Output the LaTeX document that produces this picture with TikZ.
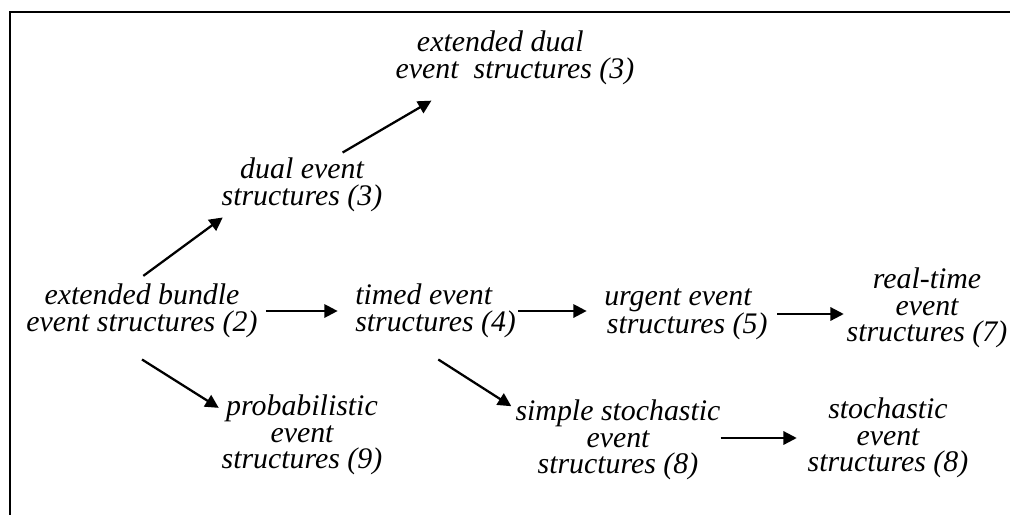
\documentclass[tikz,border=0pt]{standalone}
\usepackage{fontspec}
\setmainfont{Liberation Serif}
\usetikzlibrary{arrows.meta}
\begin{document}
\begin{tikzpicture}[x=0.75pt,y=-0.75pt,
  lbl/.style={font=\fontsize{22.4}{20}\selectfont\itshape, align=center, inner sep=0pt},
  lbll/.style={lbl, align=left},
  arr/.style={line width=1.7pt, -{Triangle[length=10pt,width=10pt]}},
  frame/.style={line width=1.2pt}]
\useasboundingbox (0,0) rectangle (1010,515);
\coordinate (ftop) at (1010,12);
\coordinate (fcorner) at (10,12);
\coordinate (fbot) at (10,515);
\draw[frame] (ftop) -- (fcorner) -- (fbot);

\node[lbl] (extdual) at (515,57.5) {extended dual\hspace*{22pt}\\event\ \ structures (3)};
\node[lbl] (dual) at (302,185) {dual event\\structures (3)};
\node[lbl] (bundle) at (142,311) {extended bundle\\event structures (2)};
\node[lbll,anchor=west] (timed) at (355,311) {timed event\\structures (4)};
\node[lbll,anchor=west] (urgent) at (604,314) {urgent event\\\hspace*{2pt}structures (5)};
\node[lbl] (realtime) at (927,308) {real-time\\event\\structures (7)};
\node[lbl] (prob) at (302,435) {probabilistic\\event\\structures (9)};
\node[lbl] (simple) at (618,440) {simple stochastic\\event\\structures (8)};
\node[lbl] (stoch) at (888,438) {stochastic\\event\\structures (8)};

\draw[arr] ([xshift=6pt]bundle.east) -- ([xshift=-13pt]bundle.east -| timed.west);
\draw[arr] ([xshift=1.5pt]timed.east) -- ([xshift=-13pt]timed.east -| urgent.west);
\draw[arr] ([xshift=7pt]urgent.east) -- ([xshift=-2pt]urgent.east -| realtime.west);
\draw[arr] ([xshift=1pt,yshift=6pt]bundle.north) -- ([xshift=1pt,yshift=-4pt]dual.south west);
\draw[arr] ([xshift=-30pt,yshift=4pt]dual.north east) -- ([xshift=27pt,yshift=-12pt]extdual.south west);
\draw[arr] ([yshift=-16pt]bundle.south) -- ([xshift=-2pt,yshift=-10pt]prob.north west);
\draw[arr] ([xshift=2pt,yshift=-16pt]timed.south) -- ([xshift=-3pt,yshift=-5pt]simple.north west);
\draw[arr] (simple.east |- stoch.center) -- ([xshift=-8pt]stoch.west |- stoch.center);
\end{tikzpicture}
\end{document}
